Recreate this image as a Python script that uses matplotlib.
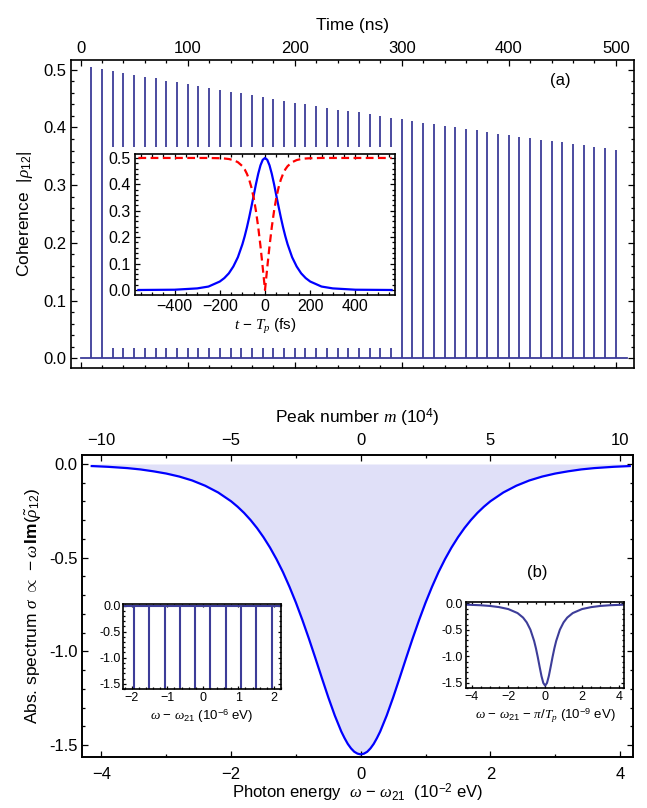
import matplotlib
matplotlib.use('Agg')
import matplotlib.pyplot as plt
from matplotlib.patches import Rectangle
from matplotlib.ticker import MultipleLocator, FormatStrFormatter

plt.rcParams['font.family'] = ['Liberation Sans', 'DejaVu Sans']
plt.rcParams['mathtext.fontset'] = 'custom'
plt.rcParams['mathtext.rm'] = 'Liberation Sans'
plt.rcParams['mathtext.it'] = 'Liberation Serif:italic'
plt.rcParams['mathtext.bf'] = 'Liberation Sans:bold'
plt.rcParams['axes.linewidth'] = 1.2

############## data ##############
# panel (a): coherence peaks, one every 10 ns
peak_time = [10, 20, 30, 40, 50, 60, 70, 80, 90, 100,
             110, 120, 130, 140, 150, 160, 170, 180, 190, 200,
             210, 220, 230, 240, 250, 260, 270, 280, 290, 300,
             310, 320, 330, 340, 350, 360, 370, 380, 390, 400,
             410, 420, 430, 440, 450, 460, 470, 480, 490, 500]
peak_height = [0.505, 0.502, 0.498, 0.495, 0.491, 0.488, 0.485, 0.481, 0.478, 0.475,
               0.472, 0.468, 0.465, 0.462, 0.459, 0.456, 0.453, 0.450, 0.446, 0.443,
               0.440, 0.437, 0.434, 0.431, 0.428, 0.426, 0.423, 0.420, 0.417, 0.414,
               0.411, 0.408, 0.406, 0.403, 0.400, 0.397, 0.395, 0.392, 0.389, 0.387,
               0.384, 0.381, 0.379, 0.376, 0.374, 0.371, 0.369, 0.366, 0.364, 0.361]
baseline_end = 510

# inset (a): single pulse, t - Tp in fs
pulse_t = [-560, -400, -300, -250, -200, -180, -160, -140, -120, -100, -90, -80, -70, -60,
           -50, -40, -30, -20, -10, 0, 10, 20, 30, 40, 50, 60, 70, 80, 90, 100,
           120, 140, 160, 180, 200, 250, 300, 400, 560]
pulse_coh = [0.000, 0.001, 0.006, 0.013, 0.032, 0.045, 0.063, 0.089, 0.124, 0.173, 0.203, 0.237,
             0.275, 0.316, 0.358, 0.401, 0.440, 0.472, 0.493, 0.500, 0.493, 0.472, 0.440, 0.401,
             0.358, 0.316, 0.275, 0.237, 0.203, 0.173, 0.124, 0.089, 0.063, 0.045, 0.032,
             0.013, 0.006, 0.001, 0.000]
pulse_other = [0.500, 0.500, 0.500, 0.500, 0.499, 0.498, 0.496, 0.492, 0.484, 0.469, 0.457, 0.440,
               0.418, 0.388, 0.349, 0.299, 0.238, 0.166, 0.085, 0.000, 0.085, 0.166, 0.238, 0.299,
               0.349, 0.388, 0.418, 0.440, 0.457, 0.469, 0.484, 0.492, 0.496, 0.498, 0.499,
               0.500, 0.500, 0.500, 0.500]

# panel (b): absorption spectrum envelope, energy in 1e-2 eV
energy = [-4.15, -3.9, -3.6, -3.4, -3.2, -3.0, -2.8, -2.6, -2.4, -2.2, -2.0, -1.9, -1.8, -1.7,
          -1.6, -1.5, -1.4, -1.3, -1.2, -1.1, -1.0, -0.9, -0.8, -0.7, -0.6, -0.5, -0.4, -0.3,
          -0.25, -0.2, -0.15, -0.1, -0.05, 0.0,
          0.05, 0.1, 0.15, 0.2, 0.25, 0.3, 0.4, 0.5, 0.6, 0.7, 0.8, 0.9, 1.0, 1.1, 1.2, 1.3,
          1.4, 1.5, 1.6, 1.7, 1.8, 1.9, 2.0, 2.2, 2.4, 2.6, 2.8, 3.0, 3.2, 3.4, 3.6, 3.9, 4.15]
spectrum = [-0.011, -0.015, -0.022, -0.029, -0.039, -0.051, -0.067, -0.088, -0.116, -0.152,
            -0.199, -0.228, -0.261, -0.299, -0.342, -0.391, -0.446, -0.508, -0.577, -0.655,
            -0.740, -0.833, -0.932, -1.036, -1.142, -1.246, -1.343, -1.428,
            -1.463, -1.494, -1.518, -1.536, -1.546, -1.550,
            -1.546, -1.536, -1.518, -1.494, -1.463, -1.428, -1.343, -1.246, -1.142, -1.036,
            -0.932, -0.833, -0.740, -0.655, -0.577, -0.508, -0.446, -0.391, -0.342, -0.299,
            -0.261, -0.228, -0.199, -0.152, -0.116, -0.088, -0.067, -0.051, -0.039, -0.029,
            -0.022, -0.015, -0.011]
m_per_energy = 2.5  # top axis: peak number m (1e4) per 1e-2 eV

# left inset (b): comb of lines, energy in 1e-6 eV
comb_pos = [-1.935, -1.505, -1.075, -0.645, -0.215, 0.215, 0.645, 1.075, 1.505, 1.935]
comb_depth = -1.7

# right inset (b): one line, energy in 1e-9 eV
line_x = [-4.4, -3.5, -3.0, -2.5, -2.0, -1.5, -1.2, -1.0, -0.8, -0.6, -0.5, -0.4, -0.3, -0.2,
          -0.1, 0.0, 0.1, 0.2, 0.3, 0.4, 0.5, 0.6, 0.8, 1.0, 1.2, 1.5, 2.0, 2.5, 3.0, 3.5, 4.4]
line_y = [-0.024, -0.037, -0.050, -0.072, -0.109, -0.184, -0.269, -0.360, -0.497, -0.708,
          -0.849, -1.014, -1.195, -1.369, -1.500, -1.550, -1.500, -1.369, -1.195, -1.014,
          -0.849, -0.708, -0.497, -0.360, -0.269, -0.184, -0.109, -0.072, -0.050, -0.037, -0.024]

spike_col = '#3d3d99'

W, H = 647, 808
fig = plt.figure(figsize=(W / 100, H / 100), dpi=100)


def fbox(x0, y0, x1, y1):
    # pixel box (top-left origin) -> figure fraction rect
    return [x0 / W, 1 - y1 / H, (x1 - x0) / W, (y1 - y0) / H]


def frame_ticks(ax, major=4, minor=2, size=12):
    ax.tick_params(which='both', direction='in', top=True, right=True, width=0.9,
                   labelsize=size, pad=3)
    ax.tick_params(which='major', length=major)
    ax.tick_params(which='minor', length=minor)


############## panel (a) ##############
ax1 = fig.add_axes(fbox(70.5, 60, 634, 368))
ax1.vlines(peak_time, 0, peak_height, color=spike_col, lw=1.3)
ax1.plot([0, baseline_end], [0, 0], color=spike_col, lw=1.3)
ax1.set_xlim(-9.5, 517)
ax1.set_ylim(-0.017, 0.517)
frame_ticks(ax1)
ax1.tick_params(labeltop=True, labelbottom=False)
ax1.xaxis.set_major_locator(MultipleLocator(100))
ax1.xaxis.set_minor_locator(MultipleLocator(20))
ax1.yaxis.set_major_locator(MultipleLocator(0.1))
ax1.yaxis.set_minor_locator(MultipleLocator(0.02))
ax1.yaxis.set_major_formatter(FormatStrFormatter('%.1f'))
ax1.xaxis.set_label_position('top')
ax1.set_xlabel('Time (ns)', fontsize=12.5, labelpad=8)
ax1.set_ylabel(r'Coherence  $|\rho_{12}|$', fontsize=12.5, labelpad=6)
fig.text(560 / W, 1 - 81 / H, '(a)', fontsize=12, ha='center', va='center')

# white card behind the inset hides the peaks there
card = Rectangle((105 / W, 1 - 348 / H), 292 / W, 201 / H, transform=fig.transFigure,
                 facecolor='white', edgecolor='none', zorder=1)
fig.add_artist(card)

axi = fig.add_axes(fbox(135, 154, 395, 295))
axi.set_zorder(2)
axi.plot(pulse_t, pulse_coh, color='#0000ff', lw=1.6)
axi.plot(pulse_t, pulse_other, color='#ff0000', lw=1.6, ls=(0, (3.5, 2)))
axi.set_xlim(-575, 575)
axi.set_ylim(-0.019, 0.515)
frame_ticks(axi, 3.5, 2, 11.5)
axi.xaxis.set_major_locator(MultipleLocator(200))
axi.xaxis.set_minor_locator(MultipleLocator(50))
axi.yaxis.set_major_locator(MultipleLocator(0.1))
axi.yaxis.set_minor_locator(MultipleLocator(0.02))
axi.yaxis.set_major_formatter(FormatStrFormatter('%.1f'))
axi.set_xlabel(r'$t\,-\,T_p$ (fs)', fontsize=11, labelpad=2)

############## panel (b) ##############
ax2 = fig.add_axes(fbox(82, 455, 633, 757))
ax2.fill_between(energy, spectrum, 0, color='#e0e0f8', lw=0)
ax2.plot(energy, spectrum, color='#0000ff', lw=1.6)
xlo, xhi = -4.3, 4.2
ax2.set_xlim(xlo, xhi)
ax2.set_ylim(-1.564, 0.048)
frame_ticks(ax2)
ax2.tick_params(top=False)
ax2.tick_params(axis='x', pad=7)
ax2.xaxis.set_major_locator(MultipleLocator(2))
ax2.xaxis.set_minor_locator(MultipleLocator(1))
ax2.yaxis.set_major_locator(MultipleLocator(0.5))
ax2.yaxis.set_minor_locator(MultipleLocator(0.1))
ax2.yaxis.set_major_formatter(FormatStrFormatter('%.1f'))
ax2.set_xlabel(r'Photon energy  $\omega\,-\,\omega_{21}$  ($10^{-2}$ eV)', fontsize=12, labelpad=0)
ax2.set_ylabel(r'Abs. spectrum $\sigma\ \propto\ -\omega\,\mathbf{Im}(\tilde{\rho}_{12})$',
               fontsize=12.5, labelpad=4)
fig.text(537 / W, 1 - 572 / H, '(b)', fontsize=12, ha='center', va='center')

top2 = ax2.twiny()
top2.set_xlim(xlo * m_per_energy, xhi * m_per_energy)
top2.xaxis.set_major_locator(MultipleLocator(5))
top2.xaxis.set_minor_locator(MultipleLocator(2.5))
top2.tick_params(which='both', direction='in', width=0.9, labelsize=12, pad=5)
top2.tick_params(which='major', length=4)
top2.tick_params(which='minor', length=2)
top2.set_xlabel(r'Peak number $m$ ($10^4$)', fontsize=12.5, labelpad=7)

# left inset: comb
axl = fig.add_axes(fbox(123.3, 604, 281, 689))
axl.vlines(comb_pos, comb_depth, 0, color=spike_col, lw=1.5)
axl.axhline(0, color=spike_col, lw=1.5)
axl.set_xlim(-2.24, 2.2)
axl.set_ylim(-1.6, 0.03)
frame_ticks(axl, 2.5, 1.3, 9)
axl.tick_params(pad=2)
axl.xaxis.set_major_locator(MultipleLocator(1))
axl.xaxis.set_minor_locator(MultipleLocator(0.2))
axl.yaxis.set_major_locator(MultipleLocator(0.5))
axl.yaxis.set_minor_locator(MultipleLocator(0.1))
axl.yaxis.set_major_formatter(FormatStrFormatter('%.1f'))
axl.set_xlabel(r'$\omega\,-\,\omega_{21}$ ($10^{-6}$ eV)', fontsize=9.5, labelpad=3)

# right inset: single line
axr = fig.add_axes(fbox(466, 601.7, 624.3, 688.3))
axr.plot(line_x, line_y, color=spike_col, lw=1.5)
axr.set_xlim(-4.3, 4.3)
axr.set_ylim(-1.6, 0.03)
frame_ticks(axr, 2.5, 1.3, 9)
axr.tick_params(pad=2)
axr.xaxis.set_major_locator(MultipleLocator(2))
axr.xaxis.set_minor_locator(MultipleLocator(0.5))
axr.yaxis.set_major_locator(MultipleLocator(0.5))
axr.yaxis.set_minor_locator(MultipleLocator(0.1))
axr.yaxis.set_major_formatter(FormatStrFormatter('%.1f'))
axr.set_xlabel(r'$\omega\,-\,\omega_{21}\,-\,\pi/T_p$ ($10^{-9}$ eV)', fontsize=9.5, labelpad=3)

fig.savefig('out.png', dpi=100)
